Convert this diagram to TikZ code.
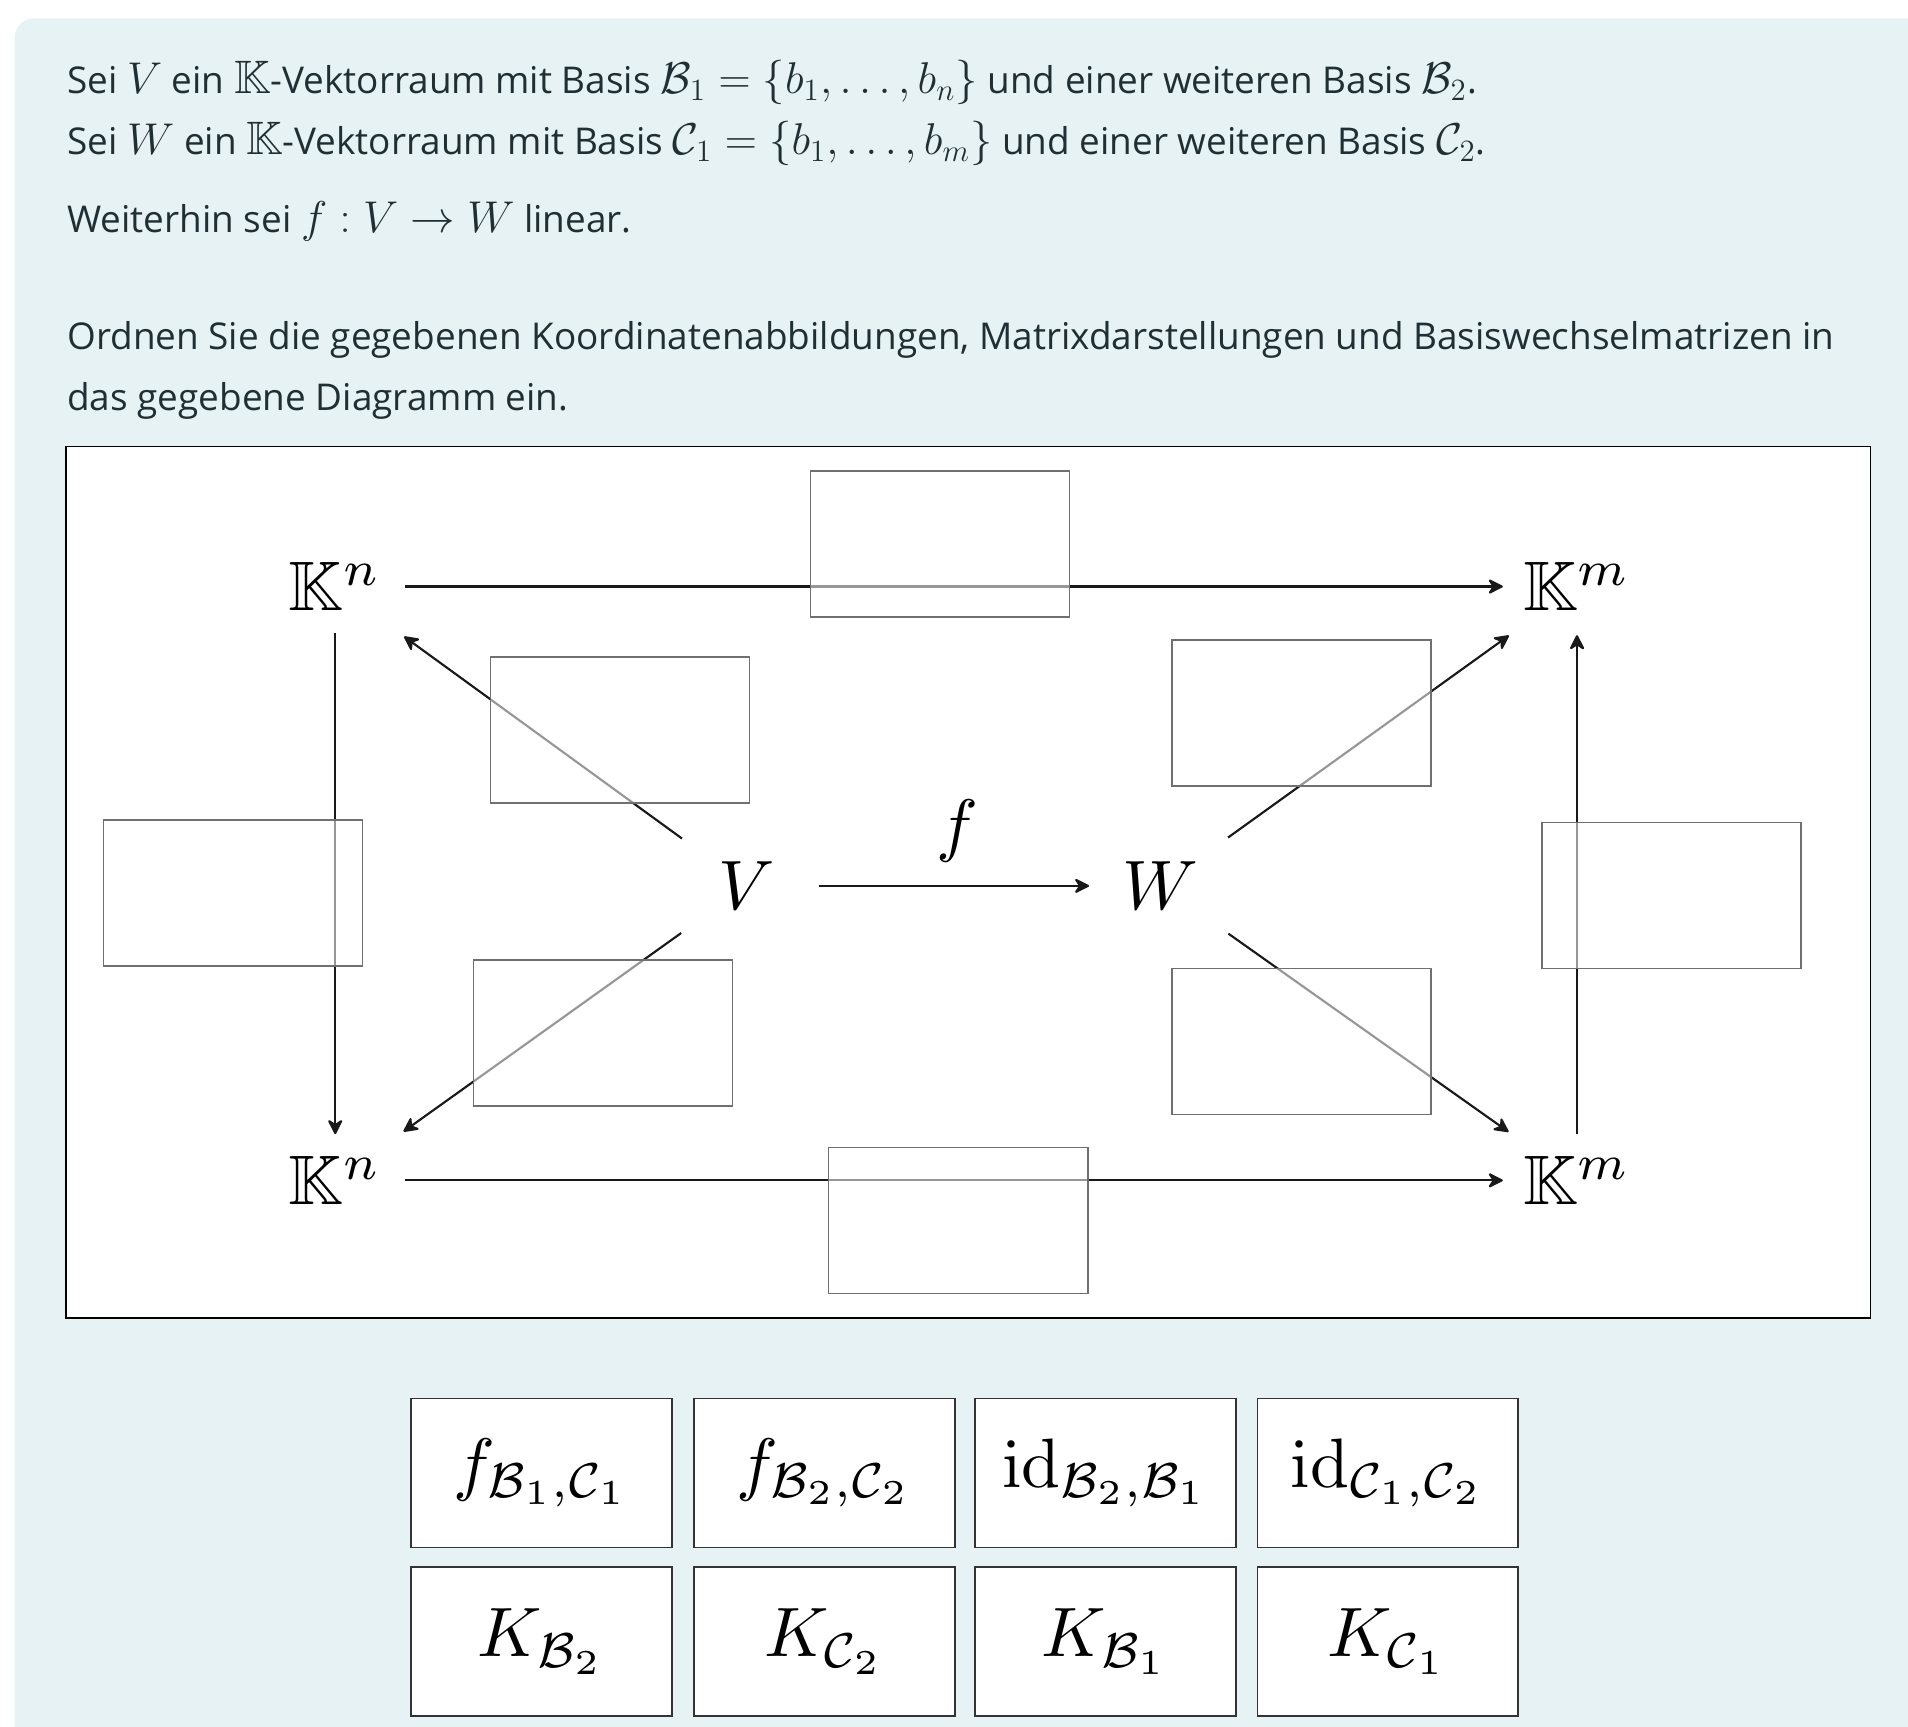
\documentclass[tikz,border=0pt]{standalone}
\usepackage{amsmath,amssymb}
\usepackage{graphicx}
\usepackage[no-math]{fontspec}
\setmainfont{Open Sans}
\usetikzlibrary{arrows.meta,calc}
\definecolor{panel}{HTML}{E6F2F4}
\definecolor{txt}{HTML}{1F2F33}
\definecolor{boxgray}{HTML}{707070}
\definecolor{tileborder}{HTML}{333333}
\newcommand\mth[1]{\scalebox{1.27}{$#1$}}
\newcommand\diagm[1]{\scalebox{3.45}{$#1$}}
\newcommand\tilem[1]{\scalebox{3.45}{$#1$}}
\begin{document}
\begin{tikzpicture}[x=0.6pt,y=-0.6pt,
  txtline/.style={anchor=base west, inner sep=0pt, text=txt, font=\fontsize{18.2}{22}\selectfont},
  dnode/.style={inner sep=0pt},
  arr/.style={line width=1.05pt, draw=black!90, -{Stealth[length=8.5pt,width=8.5pt,inset=2.8pt,round]}},
  slot/.style={draw=boxgray, line width=0.75pt, fill=white, fill opacity=0.55, minimum width=127.8pt, minimum height=72pt, inner sep=0pt},
  tile/.style={draw=tileborder, line width=0.9pt, fill=white, minimum width=128.5pt, minimum height=73.5pt, inner sep=0pt}
]
\useasboundingbox (0,0) rectangle (1568,1419);
\clip (0,0) rectangle (1568,1419);
\fill[white] (0,0) rectangle (1568,1419);
\fill[panel, rounded corners=9.6pt] (12,15) rectangle (1640,1480);

% text
\node[txtline] (t1) at (55,77) {Sei \mth{V} ein \mth{\mathbb{K}}-Vektorraum mit Basis \mth{\mathcal{B}_1=\{b_1,\ldots,b_n\}} und einer weiteren Basis \mth{\mathcal{B}_2}.};
\node[txtline] (t2) at (55,127) {Sei \mth{W} ein \mth{\mathbb{K}}-Vektorraum mit Basis \mth{\mathcal{C}_1=\{b_1,\ldots,b_m\}} und einer weiteren Basis \mth{\mathcal{C}_2}.};
\node[txtline] (t3) at (55,191) {Weiterhin sei \mth{f:V\to W} linear.};
\node[txtline] (t4) at (55,287) {Ordnen Sie die gegebenen Koordinatenabbildungen, Matrixdarstellungen und Basiswechselmatrizen in};
\node[txtline] (t5) at (55,337) {das gegebene Diagramm ein.};

% frame
\draw[line width=0.8pt, fill=white] (54,367) rectangle (1537,1083);

% diagram nodes
\node[dnode] (Kn1) at (275.5,482) {\diagm{\mathbb{K}^n}};
\node[dnode] (Km1) at (1296,482) {\diagm{\mathbb{K}^m}};
\node[dnode] (Kn2) at (275.5,970) {\diagm{\mathbb{K}^n}};
\node[dnode] (Km2) at (1296,970) {\diagm{\mathbb{K}^m}};
\node[dnode] (V) at (614,728) {\diagm{V}};
\node[dnode] (W) at (954,728) {\diagm{W}};
\node[dnode] (f) at (787,683) {\diagm{f}};

% arrows
\draw[arr, shorten <=34.5pt, shorten >=36.6pt] (Kn1.center) -- (Km1.center);
\draw[arr, shorten <=34.5pt, shorten >=36.6pt] (Kn2.center) -- (Km2.center);
\draw[arr, shorten <=22.8pt, shorten >=22.8pt] (Kn1.center) -- (Kn2.center);
\draw[arr, shorten <=22.8pt, shorten >=24pt] (Km2.center) -- (Km1.center);
\draw[arr, shorten <=35.4pt, shorten >=35.4pt] (V.center) -- (W.center);
\draw[arr, shorten <=39.7pt, shorten >=42pt] (V.center) -- (Kn1.center);
\draw[arr, shorten <=40pt, shorten >=41.4pt] (V.center) -- (Kn2.center);
\draw[arr, shorten <=40.8pt, shorten >=41.4pt] (W.center) -- (Km1.center);
\draw[arr, shorten <=40.8pt, shorten >=41.4pt] (W.center) -- (Km2.center);

% empty slots
\node[slot] (s1) at (772.5,447) {};
\node[slot] (s2) at (509.5,600) {};
\node[slot] (s3) at (191.5,734) {};
\node[slot] (s4) at (495.5,849) {};
\node[slot] (s5) at (1069.5,586) {};
\node[slot] (s6) at (1373.5,736) {};
\node[slot] (s7) at (1069.5,856) {};
\node[slot] (s8) at (787.5,1003) {};

% tiles
\node[tile] (a1) at (445,1210.5) {\tilem{f_{\mathcal{B}_1,\mathcal{C}_1}}};
\node[tile] (a2) at (677.5,1210.5) {\tilem{f_{\mathcal{B}_2,\mathcal{C}_2}}};
\node[tile] (a3) at (908.5,1210.5) {\tilem{\mathrm{id}_{\mathcal{B}_2,\mathcal{B}_1}}};
\node[tile] (a4) at (1140.5,1210.5) {\tilem{\mathrm{id}_{\mathcal{C}_1,\mathcal{C}_2}}};
\node[tile] (b1) at (445,1349) {\tilem{K_{\mathcal{B}_2}}};
\node[tile] (b2) at (677.5,1349) {\tilem{K_{\mathcal{C}_2}}};
\node[tile] (b3) at (908.5,1349) {\tilem{K_{\mathcal{B}_1}}};
\node[tile] (b4) at (1140.5,1349) {\tilem{K_{\mathcal{C}_1}}};
\end{tikzpicture}
\end{document}
